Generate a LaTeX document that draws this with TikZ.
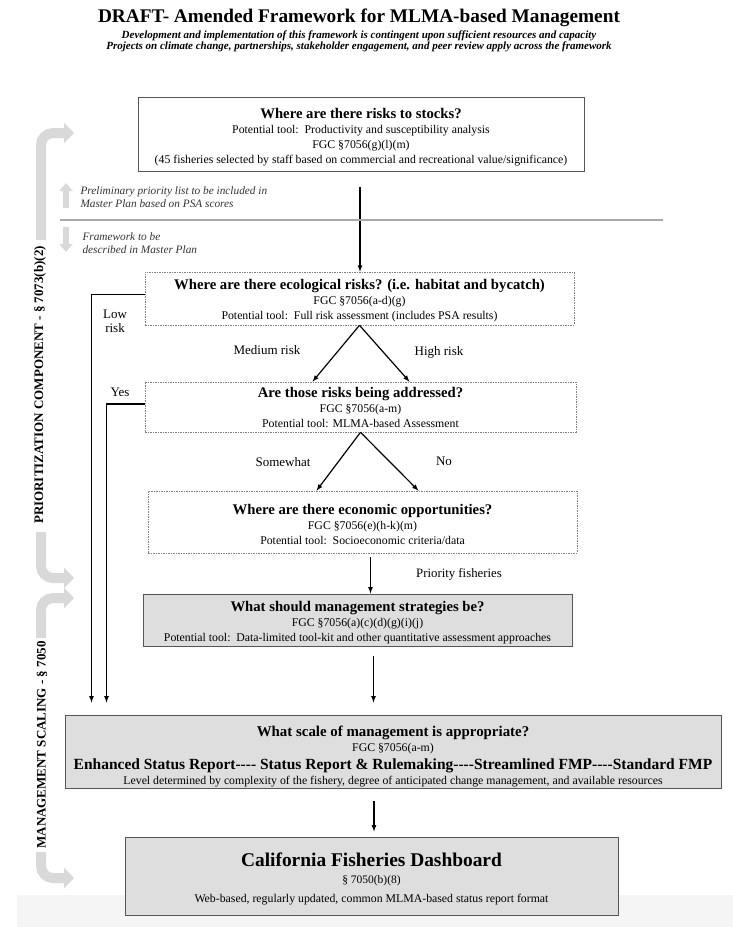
\documentclass[tikz,border=0pt]{standalone}
\usepackage{fontspec}
\setmainfont{Liberation Serif}[Ligatures=TeXOff]
\usetikzlibrary{arrows.meta}

\definecolor{bandgray}{HTML}{D9D9D9}
\definecolor{boxgray}{HTML}{DEDEDE}
\definecolor{edgegray}{HTML}{555555}
\definecolor{rulegray}{HTML}{AAAAAA}

\begin{document}
\begin{tikzpicture}[x=1pt,y=-1pt,
  plainbox/.style={draw=edgegray, line width=0.8pt, align=center, inner sep=0pt,
    font=\fontsize{11.8}{15}\selectfont},
  dotbox/.style={plainbox, draw=gray, line width=0.6pt,
    dash pattern=on 2pt off 1.2pt on 0.6pt off 1.2pt},
  shadebox/.style={plainbox, fill=boxgray, line width=1pt},
  flow/.style={-latex, line width=1.2pt},
  band/.style={draw=bandgray, line width=10pt, rounded corners=12pt,
    -{Triangle[width=20pt,length=10pt]}},
  smallband/.style={draw=bandgray, line width=6pt, -{Triangle[width=13pt,length=8pt]}},
  hint/.style={anchor=west, align=left, text=black!80,
    font=\fontsize{11.3}{13}\selectfont\itshape},
  lbl/.style={font=\fontsize{13}{15}\selectfont, align=center},
  sidelabel/.style={rotate=90, font=\fontsize{13}{14}\selectfont\bfseries}]
  \useasboundingbox (0,0) rectangle (733,927);
  \fill[black!4] (17,895) rectangle (733,927);

  % heading
  \node (title) at (359,18) {\fontsize{19.3}{22}\selectfont\bfseries DRAFT- Amended Framework for MLMA-based Management};
  \node[font=\fontsize{11}{10}\selectfont\bfseries\itshape, align=center] (sub) at (359,41)
    {Development and implementation of this framework is contingent upon sufficient resources and capacity\\
     Projects on climate change, partnerships, stakeholder engagement, and peer review apply across the framework};

  % boxes
  \node[plainbox, minimum width=446pt, minimum height=74pt] (stocks) at (361,134)
    {\rule{0pt}{16pt}{\fontsize{14.7}{17}\selectfont\bfseries Where are there risks to stocks?}\\
     Potential tool:\ \ Productivity and susceptibility analysis\\
     FGC \S7056(g)(l)(m)\\
     (45 fisheries selected by staff based on commercial and recreational value/significance)};
  \node[dotbox, minimum width=429pt, minimum height=53pt] (eco) at (359.5,298.5)
    {\rule{0pt}{14pt}{\fontsize{14.7}{16}\selectfont\bfseries Where are there ecological risks? (i.e. habitat and bycatch)}\\
     FGC \S7056(a-d)(g)\\
     Potential tool:\ \ Full risk assessment (includes PSA results)};
  \node[dotbox, minimum width=431pt, minimum height=50pt] (addr) at (360.5,407)
    {{\fontsize{14.7}{16}\selectfont\bfseries Are those risks being addressed?}\\
     FGC \S7056(a-m)\\
     Potential tool: MLMA-based Assessment};
  \node[dotbox, minimum width=429pt, minimum height=62pt] (econ) at (362.5,522)
    {\rule{0pt}{16pt}{\fontsize{14.7}{16}\selectfont\bfseries Where are there economic opportunities?}\\
     FGC \S7056(e)(h-k)(m)\\
     Potential tool:\ \ Socioeconomic criteria/data};
  \node[shadebox, minimum width=429pt, minimum height=52pt] (strat) at (357.5,620)
    {\rule{0pt}{16pt}{\fontsize{14.7}{16}\selectfont\bfseries What should management strategies be?}\\
     FGC \S7056(a)(c)(d)(g)(i)(j)\\
     Potential tool:\ \ Data-limited tool-kit and other quantitative assessment approaches};
  \node[shadebox, minimum width=656pt, minimum height=73pt] (scale) at (393,751.5)
    {\rule{0pt}{20pt}{\fontsize{14.9}{17}\selectfont\bfseries What scale of management is appropriate?}\\
     FGC \S7056(a-m)\\[3pt]
     {\fontsize{15.5}{16}\selectfont\bfseries Enhanced Status Report---- Status Report \& Rulemaking----Streamlined FMP----Standard FMP}\\
     {\fontsize{11.8}{15}\selectfont Level determined by complexity of the fishery, degree of anticipated change management, and available resources}};
  \node[shadebox, minimum width=493pt, minimum height=78pt] (dash) at (371.5,876)
    {\rule{0pt}{19.5pt}{\fontsize{19.4}{21}\selectfont\bfseries California Fisheries Dashboard}\\[2pt]
     {\fontsize{11.5}{15}\selectfont \S\ 7050(b)(8)}\\[4pt]
     Web-based, regularly updated, common MLMA-based status report format};

  % connectors
  \draw[flow, shorten <=16pt] ([xshift=-1pt]stocks.south) -- ([xshift=-1pt]stocks.south |- eco.north);
  \draw[flow] (eco.south) -- ([xshift=-48pt]addr.north);
  \draw[flow] (eco.south) -- ([xshift=49pt]addr.north);
  \draw[flow] (addr.south) -- ([xshift=-46pt]econ.north);
  \draw[flow] (addr.south) -- ([xshift=56pt]econ.north);
  \draw[flow, shorten <=4pt] ([xshift=8pt]econ.south) -- ([xshift=8pt]econ.south |- strat.north);
  \draw[flow, shorten <=9pt, shorten >=12pt] ([xshift=16pt]strat.south) -- ([xshift=16pt]strat.south |- scale.north);
  \draw[flow, shorten <=12pt, shorten >=5pt] ([xshift=-19pt]scale.south) -- ([xshift=-19pt]scale.south |- dash.north);
  \draw[flow, shorten >=12pt] ([yshift=4pt]eco.west) -| ([xshift=27pt]scale.north west);
  \draw[flow, shorten >=12pt] ([yshift=3pt]addr.west) -| ([xshift=42pt]scale.north west);

  % branch labels
  \node[lbl] (low) at (115,321) {Low\\[-1pt]risk};
  \node[lbl] (yes) at (120,392) {Yes};
  \node[lbl] (medium) at (267,350) {Medium risk};
  \node[lbl] (high) at (439,352) {High risk};
  \node[lbl] (somewhat) at (283,462) {Somewhat};
  \node[lbl] (no) at (444,461) {No};
  \node[lbl, font=\fontsize{12.8}{14}\selectfont] (priority) at (459,574) {Priority fisheries};

  % master plan split
  \draw[rulegray, line width=1.5pt] (60,220) -- (663,220);
  \draw[smallband] (66,208) -- (66,183);
  \draw[smallband] (66,227) -- (66,252);
  \node[hint] (prelim) at (77,197) {Preliminary priority list to be included in\\Master Plan based on PSA scores};
  \node[hint] (frame) at (79,243) {Framework to be\\described in Master Plan};

  % side bands
  \draw[band] (41,240) |- (74,133);
  \draw[band] (41,532) |- (74,578);
  \draw[band] (41,638) |- (74,598);
  \draw[band] (41,852) |- (74,878);
  \node[sidelabel] (prio) at (40,385) {PRIORITIZATION COMPONENT - \S\ 7073(b)(2)};
  \node[sidelabel] (mgmt) at (42,745) {MANAGEMENT SCALING - \S\ 7050};
\end{tikzpicture}
\end{document}
